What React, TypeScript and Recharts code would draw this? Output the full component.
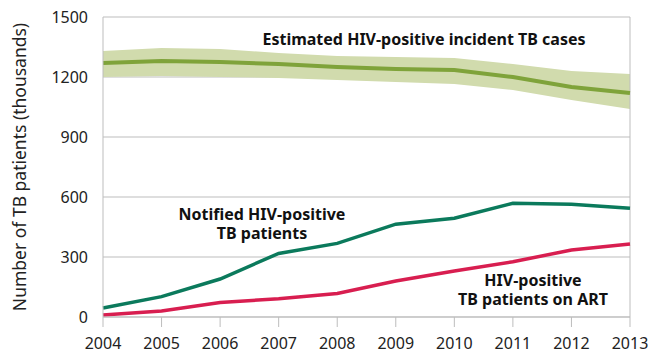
import { ComposedChart, Area, Line, XAxis, YAxis, CartesianGrid, ReferenceLine } from 'recharts'

const years = [2004, 2005, 2006, 2007, 2008, 2009, 2010, 2011, 2012, 2013]
const estimated = [1270, 1280, 1275, 1265, 1250, 1240, 1235, 1200, 1150, 1120]
const estimatedLow = [1200, 1205, 1200, 1195, 1185, 1175, 1165, 1135, 1085, 1040]
const estimatedHigh = [1330, 1345, 1340, 1320, 1305, 1300, 1295, 1265, 1230, 1215]
const notified = [45, 102, 190, 318, 368, 464, 494, 569, 564, 544]
const onArt = [10, 30, 73, 91, 118, 180, 230, 276, 335, 365]
const yTicks = [0, 300, 600, 900, 1200, 1500]

const data = years.map((year, i) => ({
  year,
  estimated: estimated[i],
  band: [estimatedLow[i], estimatedHigh[i]],
  notified: notified[i],
  onArt: onArt[i],
}))

const font = '"Noto Sans", sans-serif'
const grid = '#bdbdbd'
const tick = { fontSize: 16, fill: '#222', fontFamily: font }

export default function App() {
  return (
    <div style={{ position: 'absolute', left: 0, top: 0 }}>
      <ComposedChart width={648} height={354} data={data} margin={{ top: 17, right: 18, left: 0, bottom: 0 }}>
        <CartesianGrid stroke={grid} vertical={false} />
        <XAxis
          dataKey="year"
          type="number"
          domain={[2004, 2013]}
          ticks={years}
          tick={tick}
          tickSize={10}
          tickMargin={11}
          height={37}
          stroke={grid}
          allowDecimals={false}
        />
        <YAxis
          domain={[0, 1500]}
          ticks={yTicks}
          tick={tick}
          tickLine={false}
          tickSize={0}
          tickMargin={15}
          width={103}
          stroke={grid}
          label={{ value: 'Number of TB patients (thousands)', angle: -90, position: 'insideLeft', offset: 20, style: { textAnchor: 'middle', fontSize: 17.5, fill: '#222', fontFamily: font } }}
        />
        <ReferenceLine x={2013} stroke={grid} />
        <Area type="linear" dataKey="band" stroke="none" fill="#d1dbad" fillOpacity={1} isAnimationActive={false} />
        <Line type="linear" dataKey="estimated" stroke="#7fa33a" strokeWidth={4} dot={false} isAnimationActive={false} />
        <Line type="linear" dataKey="notified" stroke="#0b7a5c" strokeWidth={3.5} dot={false} isAnimationActive={false} />
        <Line type="linear" dataKey="onArt" stroke="#d81e50" strokeWidth={3.5} dot={false} isAnimationActive={false} />
        <g fontFamily={font} fontWeight="bold" fontSize={16} fill="#111" textAnchor="middle">
          <text x={424} y={45}>Estimated HIV-positive incident TB cases</text>
          <text x={262} y={219.5}>Notified HIV-positive</text>
          <text x={262} y={239}>TB patients</text>
          <text x={533} y={285.5}>HIV-positive</text>
          <text x={533} y={305}>TB patients on ART</text>
        </g>
      </ComposedChart>
    </div>
  )
}
